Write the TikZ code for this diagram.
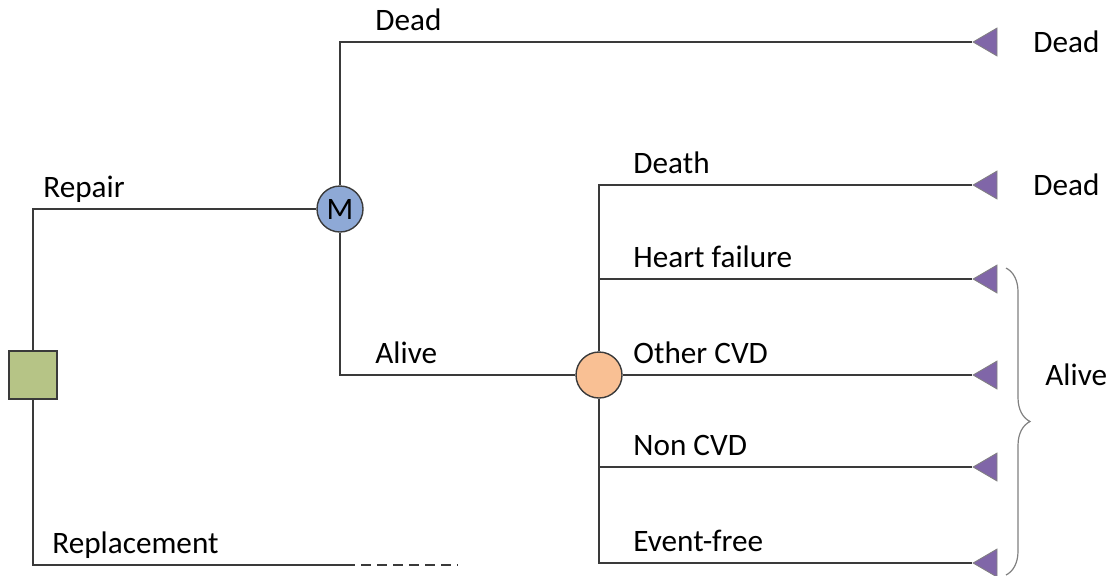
\documentclass[tikz,border=0pt]{standalone}
\usepackage{fontspec}
\setmainfont{Carlito}
\usetikzlibrary{shapes.geometric,decorations.pathreplacing}

\definecolor{decgreen}{HTML}{B6C486}
\definecolor{markovblue}{HTML}{8EA9D6}
\definecolor{chanceorange}{HTML}{F9C094}
\definecolor{termpurple}{HTML}{8066A8}
\definecolor{edgegray}{HTML}{3A3A3A}

\tikzset{
  decision/.style={draw=edgegray, fill=decgreen, minimum size=24pt, inner sep=0pt, line width=0.7pt},
  markov/.style={circle, draw=edgegray, fill=markovblue, minimum size=23pt, inner sep=0pt, line width=0.7pt},
  chance/.style={circle, draw=edgegray, fill=chanceorange, minimum size=23pt, inner sep=0pt, line width=0.7pt},
  terminal/.style={isosceles triangle, isosceles triangle stretches, shape border rotate=180,
    draw=gray, fill=termpurple, minimum width=14pt, minimum height=12pt, inner sep=0pt, anchor=apex},
  branch/.style={draw=edgegray, line width=0.75pt},
  lbl/.style={anchor=base west, inner sep=0pt},
  bracket/.style={decorate, decoration={brace, amplitude=12pt}, draw=gray, line width=0.6pt},
}

\begin{document}
\begin{tikzpicture}[x=0.5pt, y=-0.5pt, font=\fontsize{15.6}{18}\selectfont]
        \useasboundingbox (0,0) rectangle (1117,575);

        % decision
        \node[decision] (dec) at (33,375) {};
        \node[markov] (mk) at (340,209) {M};
        \node[chance] (ch) at (599,375) {};

        % terminals
        \foreach \name/\y in {tDead/42, tDeath/185, tHF/279, tOC/375, tNC/467, tEF/563}
            \node[terminal] (\name) at (972,\y) {};

        % branches
        \draw[branch] (dec) |- (mk);
        \draw[branch] (mk) |- (tDead);
        \draw[branch] (mk) |- (ch);
        \draw[branch] (ch) -- (tOC);
        \foreach \name in {tDeath, tHF, tNC, tEF}
            \draw[branch] (ch) |- (\name);

        % replacement
        \coordinate (repEnd) at (345,565);
        \coordinate (repDash) at (458,565);
        \draw[branch] (dec) |- (repEnd);
        \draw[branch, dash pattern=on 5pt off 3pt] (repEnd) -- (repDash);

        % branch labels
        \node[lbl] (lRepair) at (43,197) {Repair};
        \node[lbl] (lRepl) at (52,553) {Replacement};
        \node[lbl] (lDead) at (375,30) {Dead};
        \node[lbl] (lAlive) at (375,363) {Alive};
        \node[lbl] (lDeath) at (633,173) {Death};
        \node[lbl] (lHF) at (633,267) {Heart failure};
        \node[lbl] (lOC) at (633,363) {Other CVD};
        \node[lbl] (lNC) at (633,455) {Non CVD};
        \node[lbl] (lEF) at (633,551) {Event-free};

        % outcomes
        \node[lbl] (oDead1) at (1033,52) {Dead};
        \node[lbl] (oDead2) at (1033,195) {Dead};
        \coordinate (brTop) at (1006,268);
        \coordinate (brBot) at (1006,575);
        \draw[bracket] (brTop) -- (brBot);
        \node[lbl] (oAlive) at (1045,385) {Alive};
    \end{tikzpicture}
\end{document}
